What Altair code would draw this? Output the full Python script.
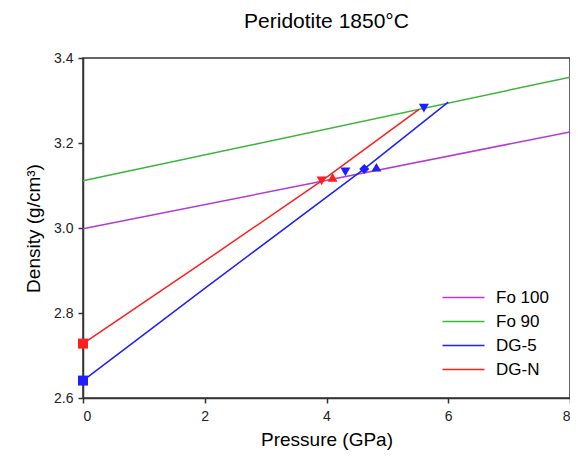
import altair as alt
import pandas as pd

series_names = ["Fo 100", "Fo 90", "DG-5", "DG-N"]
series_colors = ["#b23cd2", "#3cb43c", "#1e1eff", "#ff1e1e"]

fo100_x = [0, 8]
fo100_y = [2.998, 3.226]
fo90_x = [0, 8]
fo90_y = [3.111, 3.355]
dg5_x = [0, 2, 4.62, 6.0]
dg5_y = [2.641, 2.858, 3.139, 3.296]
dgn_x = [0, 2, 3.92, 5.52]
dgn_y = [2.728, 2.922, 3.111, 3.279]

pt_series = ["DG-N", "DG-5", "DG-N", "DG-N", "DG-5", "DG-5", "DG-5", "DG-5"]
pt_x = [0, 0, 3.92, 4.10, 4.31, 4.62, 4.82, 5.6]
pt_y = [2.728, 2.641, 3.111, 3.119, 3.132, 3.139, 3.143, 3.282]
pt_shape = ["square", "square", "triangle-down", "triangle-up", "triangle-down",
            "diamond", "triangle-up", "triangle-down"]

rows = []
for name, xs, ys in zip(series_names, [fo100_x, fo90_x, dg5_x, dgn_x],
                        [fo100_y, fo90_y, dg5_y, dgn_y]):
    for i, (x, y) in enumerate(zip(xs, ys)):
        rows.append({"series": name, "x": x, "y": y, "order": i})
lines_df = pd.DataFrame(rows)
pts_df = pd.DataFrame({"series": pt_series, "x": pt_x, "y": pt_y, "shape": pt_shape})

font = "Liberation Sans"
xscale = alt.Scale(domain=[0, 8], nice=False)
yscale = alt.Scale(domain=[2.6, 3.4], nice=False, zero=False)

lines = alt.Chart(lines_df).mark_line(strokeWidth=1.5).encode(
    x=alt.X("x:Q", scale=xscale, title="Pressure (GPa)",
            axis=alt.Axis(values=[0, 2, 4, 6, 8], format="d", labelPadding=6,
                          titlePadding=7)),
    y=alt.Y("y:Q", scale=yscale, title="Density (g/cm³)",
            axis=alt.Axis(values=[2.6, 2.8, 3.0, 3.2, 3.4], format=".1f",
                          labelPadding=5, titlePadding=10)),
    color=alt.Color("series:N",
                    scale=alt.Scale(domain=series_names, range=series_colors),
                    legend=alt.Legend(title=None, orient="none", legendX=372, legendY=231,
                                      symbolType="M-3,0H3", symbolSize=196,
                                      symbolStrokeWidth=1.5, labelFontSize=17,
                                      labelFont=font, rowPadding=6, labelOffset=24,
                                      labelColor="black", padding=0)),
    detail="series:N",
    order="order:Q",
)

points = alt.Chart(pts_df).mark_point(filled=True, size=100, opacity=1).encode(
    x=alt.X("x:Q", scale=xscale),
    y=alt.Y("y:Q", scale=yscale),
    fill=alt.Fill("series:N",
                  scale=alt.Scale(domain=series_names, range=series_colors),
                  legend=None),
    shape=alt.Shape("shape:N", scale=None),
)

chart = (lines + points).properties(
    width=487, height=340,
    title=alt.TitleParams("Peridotite 1850°C", fontSize=21, font=font,
                          fontWeight="normal", color="black", offset=19),
    autosize=alt.AutoSizeParams(type="none"),
    padding={"left": 75, "top": 50, "right": 0, "bottom": 54},
).configure_axis(
    labelFont=font, titleFont=font, labelFontSize=14, titleFontSize=19,
    titleFontWeight="normal", labelColor="#222", titleColor="black",
    domainColor="#333", domainWidth=1.5, tickColor="#333", tickWidth=1.5,
    tickSize=5, grid=False,
).configure_view(
    stroke="#333", strokeWidth=1.5
)

chart.save("out.html", embed_options={"renderer": "svg", "actions": False})
